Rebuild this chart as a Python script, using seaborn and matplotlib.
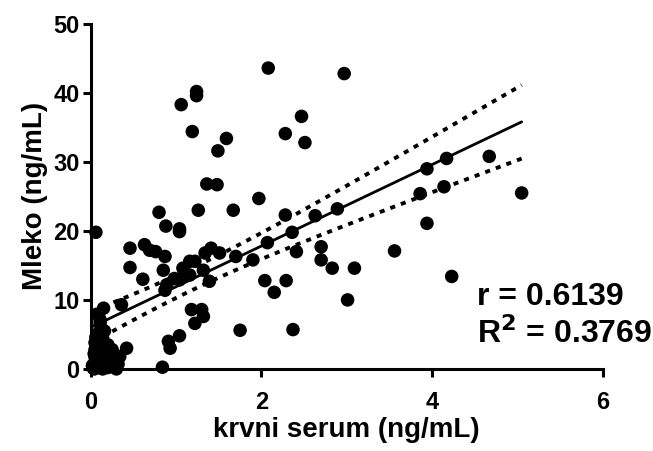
import numpy as np
import pandas as pd
import matplotlib
matplotlib.use('Agg')
from matplotlib import pyplot as plt
import seaborn as sns

# serum (x) and milk (y) concentrations, ng/mL
serum = [2.08, 2.97, 1.24, 1.24, 1.06, 2.47, 1.19, 2.28, 2.51, 1.59,
         1.49, 1.36, 1.48, 1.97, 0.80, 1.26, 1.67, 0.88, 1.04, 1.04,
         0.06, 2.28, 2.63, 2.89, 2.36, 2.07, 0.46, 0.63, 0.76, 0.87,
         2.41, 2.70, 4.67, 4.17, 3.94, 5.05, 3.86, 4.14, 3.94, 1.90,
         2.70, 2.83, 3.09, 3.56, 2.04, 2.29, 2.15, 4.23, 3.01, 2.37,
         0.69, 0.85, 1.08, 1.22, 1.32, 1.34, 1.41, 1.51, 1.70, 1.16,
         1.39, 1.16, 0.98, 0.89, 0.87, 1.18, 1.30, 1.22, 1.32, 1.75,
         0.91, 1.04, 0.93, 0.42, 0.84, 0.46, 0.61, 1.04,
         0.15, 0.36, 0.11, 0.09, 0.11, 0.09, 0.05, 0.05, 0.05, 0.05,
         0.04, 0.18, 0.24, 0.34, 0.30, 0.14, 0.20, 0.10, 0.15, 0.20,
         0.08, 0.12, 0.22, 0.02, 0.25, 0.16, 0.13,
         0.03, 0.06, 0.07, 0.10, 0.12, 0.17, 0.19, 0.26, 0.28, 0.08,
         0.04, 0.14, 0.21, 0.32, 0.06]
milk = [43.6, 42.8, 40.2, 39.6, 38.3, 36.6, 34.4, 34.1, 32.8, 33.4,
        31.6, 26.8, 26.7, 24.7, 22.7, 23.0, 23.0, 20.7, 20.3, 19.9,
        19.8, 22.3, 22.2, 23.2, 19.8, 18.3, 17.5, 18.0, 17.0, 16.3,
        17.0, 17.7, 30.8, 30.5, 29.0, 25.5, 25.4, 26.4, 21.1, 15.8,
        15.8, 14.6, 14.6, 17.1, 12.8, 12.8, 11.1, 13.4, 10.0, 5.7,
        17.2, 14.3, 14.6, 15.6, 14.3, 16.8, 17.5, 16.8, 16.3, 15.6,
        12.7, 13.6, 13.1, 12.2, 11.4, 8.6, 8.6, 6.6, 7.6, 5.6,
        4.0, 4.8, 3.0, 3.0, 0.25, 14.7, 13.0, 12.9,
        8.8, 9.3, 7.1, 7.8, 6.6, 5.2, 3.8, 2.8, 1.7, 0.3,
        0.0, 2.3, 1.1, 1.8, 0.0, 4.4, 3.5, 1.0, 0.5, 0.2,
        2.0, 3.0, 0.6, 0.5, 2.8, 5.5, 1.5,
        0.1, 0.8, 1.3, 0.2, 2.5, 0.9, 1.6, 0.4, 1.2, 3.3,
        2.2, 0.0, 1.9, 0.7, 4.6]

df = pd.DataFrame({'serum': serum, 'milk': milk})

# linear fit and 95% confidence band of the line
x = df['serum'].to_numpy()
y = df['milk'].to_numpy()
n = len(x)
slope, intercept = np.polyfit(x, y, 1)
resid = y - (slope * x + intercept)
s = np.sqrt(np.sum(resid ** 2) / (n - 2))
sxx = np.sum((x - x.mean()) ** 2)
xs = np.linspace(x.min(), x.max(), 200)
fit = slope * xs + intercept
half = 1.98 * s * np.sqrt(1 / n + (xs - x.mean()) ** 2 / sxx)

sns.set_style('ticks')
plt.rcParams['font.family'] = ['Liberation Sans', 'DejaVu Sans']
plt.rcParams['font.weight'] = 'bold'
for key in ['text.color', 'axes.labelcolor', 'xtick.color', 'ytick.color', 'axes.edgecolor']:
    plt.rcParams[key] = 'black'

fig = plt.figure(figsize=(6.53, 4.51), dpi=100)
ax = fig.add_axes([0.139, 0.182, 0.784, 0.765])

sns.scatterplot(data=df, x='serum', y='milk', ax=ax, color='black',
                s=95, edgecolor='none', clip_on=False, zorder=3)
ax.plot(xs, fit, color='black', lw=2.0, zorder=2)
ax.plot(xs, fit + half, color='black', lw=2.8, ls=(0, (1.3, 1.6)), zorder=2)
ax.plot(xs, fit - half, color='black', lw=2.8, ls=(0, (1.3, 1.6)), zorder=2)

ax.set_xlim(0, 6)
ax.set_ylim(0, 50)
ax.set_xticks([0, 2, 4, 6])
ax.set_yticks([0, 10, 20, 30, 40, 50])
sns.despine(ax=ax)
for sp in ['left', 'bottom']:
    ax.spines[sp].set_linewidth(2.2)
ax.tick_params(width=2.2, length=6, labelsize=17, colors='black')
ax.tick_params(axis='x', pad=10)
ax.tick_params(axis='y', pad=2)
for lab in ax.get_xticklabels() + ax.get_yticklabels():
    lab.set_fontweight('bold')

ax.set_xlabel('krvni serum (ng/mL)', fontsize=20, fontweight='bold', labelpad=2)
ax.set_ylabel('Mleko (ng/mL)', fontsize=20, fontweight='bold', labelpad=4)

ax.text(4.53, 10.4, 'r = 0.6139', fontsize=23, fontweight='bold', va='center')
ax.text(4.53, 5.1, 'R$^{\\mathbf{2}}$ = 0.3769', fontsize=23, fontweight='bold', va='center')

fig.savefig('out.png', dpi=100)
